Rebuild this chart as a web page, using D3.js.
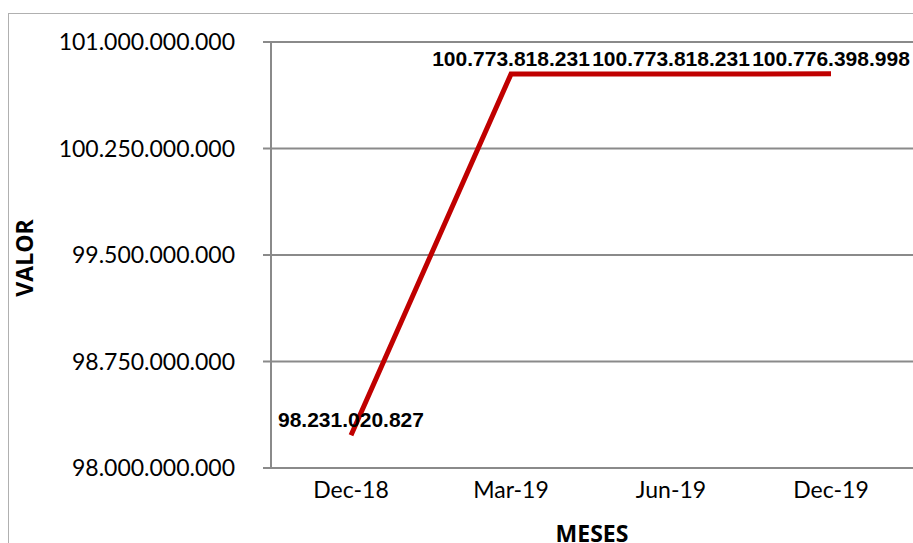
<!DOCTYPE html>
<meta charset="utf-8">
<style>
    body { margin: 0; background: #fff; }
    .tick-label { font: 23px Lato, "Open Sans", sans-serif; fill: #000; }
    .data-label { font: bold 21px "Liberation Sans", Arial, sans-serif; fill: #000; text-anchor: middle; }
    .axis-title { font: bold 23px "Open Sans", Lato, sans-serif; fill: #000; text-anchor: middle; }
</style>
<script src="https://d3js.org/d3.v7.min.js"></script>
<div id="chart"></div>
<script>
var months = ["Dec-18", "Mar-19", "Jun-19", "Dec-19"];
var valores = [98231020827, 100773818231, 100773818231, 100776398998];
var yTicks = [98000000000, 98750000000, 99500000000, 100250000000, 101000000000];

var width = 913, height = 543;
var margin = {top: 42, right: 2, bottom: 76, left: 271};

var svg = d3.select("#chart").append("svg")
    .attr("width", width)
    .attr("height", height);

// outer chart frame (clipped by the window on right/bottom)
svg.append("rect")
    .attr("x", 8.5).attr("y", 13.5)
    .attr("width", 1000).attr("height", 1000)
    .attr("fill", "none")
    .attr("stroke", "#b0b0b0")
    .attr("stroke-width", 1);

var x = d3.scaleBand()
    .domain(months)
    .range([margin.left, margin.left + 640]);

var y = d3.scaleLinear()
    .domain([98000000000, 101000000000])
    .range([height - margin.bottom + 1, margin.top]);

function fmt(v) {
    return d3.format(",d")(v).replace(/,/g, ".");
}

var g = svg.append("g");

// gridlines
g.selectAll("line.grid")
    .data(yTicks)
    .enter().append("line")
    .attr("class", "grid")
    .attr("x1", margin.left - 8)
    .attr("x2", width)
    .attr("y1", function (d) { return y(d); })
    .attr("y2", function (d) { return y(d); })
    .attr("stroke", "#8a8a8a")
    .attr("stroke-width", 2);

// y axis line
g.append("line")
    .attr("x1", margin.left).attr("x2", margin.left)
    .attr("y1", y(101000000000)).attr("y2", y(98000000000))
    .attr("stroke", "#8a8a8a")
    .attr("stroke-width", 2);

// y tick labels
g.selectAll("text.ylab")
    .data(yTicks)
    .enter().append("text")
    .attr("class", "tick-label")
    .attr("x", 235)
    .attr("y", function (d) { return y(d); })
    .attr("dy", "0.36em")
    .attr("text-anchor", "end")
    .text(fmt);

// x tick labels
g.selectAll("text.xlab")
    .data(months)
    .enter().append("text")
    .attr("class", "tick-label")
    .attr("x", function (d) { return x(d) + x.bandwidth() / 2; })
    .attr("y", 498)
    .attr("text-anchor", "middle")
    .text(function (d) { return d; });

// line
var line = d3.line()
    .x(function (d, i) { return x(months[i]) + x.bandwidth() / 2; })
    .y(function (d) { return y(d); });

g.append("path")
    .datum(valores)
    .attr("d", line)
    .attr("fill", "none")
    .attr("stroke", "#c00000")
    .attr("stroke-width", 5);

// data labels
g.selectAll("text.dlab")
    .data(valores)
    .enter().append("text")
    .attr("class", "data-label")
    .attr("x", function (d, i) { return x(months[i]) + x.bandwidth() / 2; })
    .attr("y", function (d) { return y(d) - 8; })
    .text(fmt);

// axis titles
svg.append("text")
    .attr("class", "axis-title")
    .attr("x", 592)
    .attr("y", 542)
    .text("MESES");

svg.append("text")
    .attr("class", "axis-title")
    .attr("transform", "translate(33,258) rotate(-90)")
    .text("VALOR");
</script>
